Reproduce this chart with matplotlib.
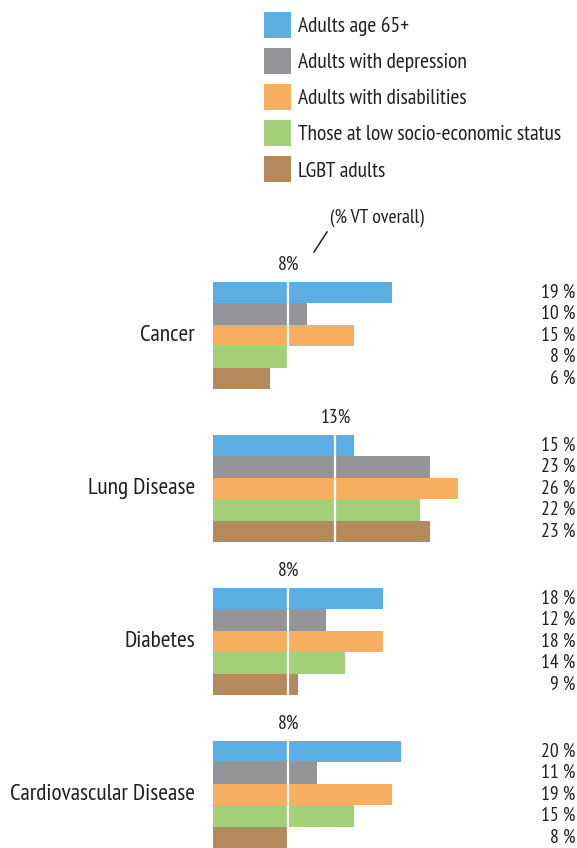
import matplotlib
matplotlib.use("Agg")
import matplotlib.pyplot as plt
from matplotlib.lines import Line2D

plt.rcParams['font.family'] = ['PT Sans Narrow', 'Roboto Condensed', 'DejaVu Sans']
plt.rcParams['text.color'] = '#231f20'

diseases = ['Cancer', 'Lung Disease', 'Diabetes', 'Cardiovascular Disease']
groups = ['Adults age 65+', 'Adults with depression', 'Adults with disabilities',
          'Those at low socio-economic status', 'LGBT adults']
colors = ['#5baee1', '#939598', '#f7ae61', '#a3cf78', '#b48a5c']

# percent of each group, one list per disease (same order as groups)
cancer = [19, 10, 15, 8, 6]
lung = [15, 23, 26, 22, 23]
diabetes = [18, 12, 18, 14, 9]
cardio = [20, 11, 19, 15, 8]
values = [cancer, lung, diabetes, cardio]

# Vermont overall rate per disease
overall = [8, 13, 8, 8]

W, H = 577, 848
fig = plt.figure(figsize=(W / 100, H / 100), dpi=100)
ax = fig.add_axes([213 / W, 0, 362 / W, 566 / H])

gap = 7.15  # distance between disease blocks, in bar heights
for g, vals in enumerate(values):
    top = g * gap
    for i, v in enumerate(vals):
        y = top + i
        ax.barh(y, v, height=1.0, color=colors[i], label=groups[i] if g == 0 else None)
        ax.annotate(f'{v} %', xy=(1, y), xycoords=('axes fraction', 'data'),
                    ha='right', va='center', fontsize=14)
    ax.plot([overall[g], overall[g]], [top - 0.5, top + 4.5], color='white', lw=1.6)
    ax.annotate(f'{overall[g]}%', xy=(overall[g], top - 0.5), xytext=(0, 6),
                textcoords='offset points', ha='center', va='bottom', fontsize=14,
                annotation_clip=False)
    ax.annotate(diseases[g], xy=(0, top + 2), xycoords=('axes fraction', 'data'),
                xytext=(-13, 0), textcoords='offset points',
                ha='right', va='center', fontsize=16.8, annotation_clip=False)

ax.set_xlim(0, 362 / 9.42)
ax.set_ylim(3 * gap + 4.5, -0.5)
ax.axis('off')

# callout for the overall marker
fig.text(377 / W, 1 - 218 / H, '(% VT overall)', ha='center', va='center', fontsize=14)
fig.add_artist(Line2D([314 / W, 327 / W], [1 - 252 / H, 1 - 232 / H],
                      color='#231f20', lw=1.1))

# handleheight 1.48 gives ~26px swatches after legend's descent trim
fig.legend(loc='upper left', bbox_to_anchor=(264 / W, 1 - 12 / H), frameon=False,
           fontsize=15.5, borderpad=0, borderaxespad=0, handlelength=1.26,
           handleheight=1.48, handletextpad=0.33, labelspacing=0.47)

fig.savefig('out.png', dpi=100)
